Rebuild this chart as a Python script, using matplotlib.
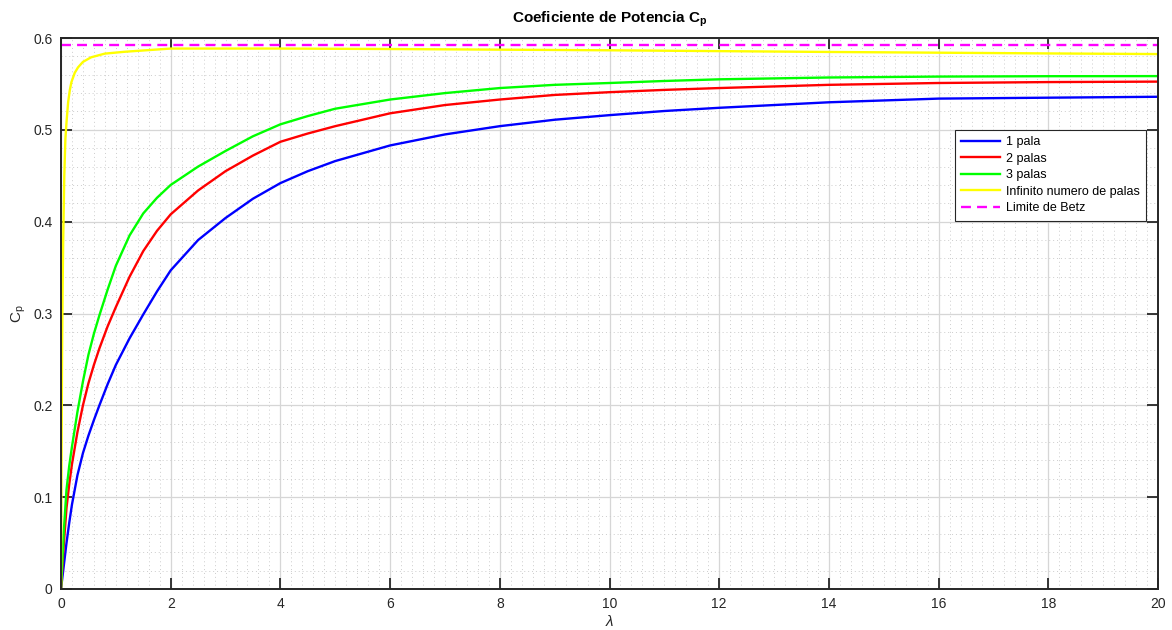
import matplotlib
matplotlib.use("Agg")
import matplotlib.pyplot as plt
from matplotlib.ticker import MultipleLocator

plt.rcParams['font.family'] = ['Liberation Sans', 'DejaVu Sans']
plt.rcParams['mathtext.fontset'] = 'custom'
plt.rcParams['mathtext.rm'] = 'Liberation Sans'
plt.rcParams['mathtext.it'] = 'Liberation Sans:italic'
plt.rcParams['mathtext.bf'] = 'Liberation Sans:bold'

# ---- data ----
lam = [0, 0.05, 0.1, 0.15, 0.2, 0.3, 0.4, 0.5, 0.6, 0.7, 0.85, 1.0, 1.25, 1.5,
       1.75, 2, 2.5, 3, 3.5, 4, 4.5, 5, 6, 7, 8, 9, 10, 11, 12, 14, 16, 18, 20]
cp_1 = [0, 0.025, 0.050, 0.072, 0.092, 0.124, 0.148, 0.167, 0.184, 0.200, 0.223,
        0.244, 0.273, 0.299, 0.324, 0.347, 0.380, 0.404, 0.425, 0.442, 0.455,
        0.466, 0.483, 0.495, 0.504, 0.511, 0.516, 0.5205, 0.524, 0.530, 0.534,
        0.535, 0.536]
cp_2 = [0, 0.048, 0.088, 0.114, 0.136, 0.171, 0.200, 0.224, 0.244, 0.262, 0.286,
        0.307, 0.340, 0.368, 0.390, 0.408, 0.434, 0.455, 0.472, 0.487, 0.496,
        0.504, 0.518, 0.527, 0.533, 0.538, 0.541, 0.5435, 0.5455, 0.549, 0.551,
        0.552, 0.5525]
cp_3 = [0, 0.062, 0.108, 0.134, 0.155, 0.193, 0.226, 0.255, 0.278, 0.298, 0.326,
        0.352, 0.385, 0.409, 0.426, 0.440, 0.460, 0.477, 0.493, 0.506, 0.515,
        0.523, 0.533, 0.540, 0.5455, 0.549, 0.551, 0.5532, 0.555, 0.557, 0.558,
        0.5584, 0.5585]
lam_inf = [0, 0.01, 0.02, 0.03, 0.04, 0.06, 0.08, 0.1, 0.13, 0.16, 0.19, 0.25,
           0.31, 0.4, 0.55, 0.8, 1.16, 2, 4, 6, 8, 10, 12, 14, 16, 18, 20]
cp_inf = [0, 0.15, 0.26, 0.33, 0.38, 0.45, 0.49, 0.508, 0.530, 0.543, 0.552,
          0.562, 0.568, 0.574, 0.579, 0.583, 0.585, 0.5885, 0.5885, 0.588,
          0.5873, 0.5866, 0.5857, 0.5848, 0.5840, 0.5832, 0.5825]
lam_betz = [0, 20]
cp_betz = [0.5926, 0.5926]

labels = ['1 pala', '2 palas', '3 palas', 'Infinito numero de palas', 'Limite de Betz']
xticks = [0, 2, 4, 6, 8, 10, 12, 14, 16, 18, 20]
yticks = [0, 0.1, 0.2, 0.3, 0.4, 0.5, 0.6]
yticklabels = ['0', '0.1', '0.2', '0.3', '0.4', '0.5', '0.6']

fig = plt.figure(figsize=(11.72, 6.30), dpi=100)
ax = fig.add_axes([61/1172, 1 - 589/630, 1097/1172, 551/630])

ax.plot(lam, cp_1, color='#0000ff', lw=1.7, label=labels[0])
ax.plot(lam, cp_2, color='#ff0000', lw=1.7, label=labels[1])
ax.plot(lam, cp_3, color='#00ff00', lw=1.7, label=labels[2])
ax.plot(lam_inf, cp_inf, color='#ffff00', lw=1.7, label=labels[3])
ax.plot(lam_betz, cp_betz, color='#ff00ff', lw=1.7, ls='--', dashes=(4.2, 2.6),
        label=labels[4])

ax.set_xlim(0, 20)
ax.set_ylim(0, 0.6)
ax.set_xticks(xticks)
ax.set_xticklabels([str(v) for v in xticks])
ax.set_yticks(yticks)
ax.set_yticklabels(yticklabels)
ax.xaxis.set_minor_locator(MultipleLocator(0.2))
ax.yaxis.set_minor_locator(MultipleLocator(0.02))

ax.grid(which='major', color='#d6d6d6', lw=0.9)
ax.grid(which='minor', color='#cccccc', lw=0.7, ls=(0, (1, 3)))
ax.set_axisbelow(True)

ax.tick_params(which='major', direction='in', length=8, width=1.3,
               top=True, right=True, colors='#262626', labelsize=10, pad=6)
ax.tick_params(which='minor', length=0, top=True, right=True)
for sp in ax.spines.values():
    sp.set_color('#262626')
    sp.set_linewidth(1.4)

ax.set_title(r'Coeficiente de Potencia C$_\mathbf{p}$', fontsize=11,
             fontweight='bold', color='#000000', pad=11)
ax.set_xlabel(r'$\lambda$', fontsize=11, color='#262626', labelpad=2)
ax.set_ylabel(r'C$_\mathrm{p}$', fontsize=11, color='#262626', labelpad=4)

leg = ax.legend(loc='upper right', bbox_to_anchor=(0.989, 0.833), fontsize=9,
                frameon=True, fancybox=False, shadow=False, framealpha=1,
                edgecolor='#262626', handlelength=3.1, handletextpad=0.45,
                labelspacing=0.36, borderpad=0.5, borderaxespad=0)
leg.get_frame().set_linewidth(0.8)

fig.savefig('out.png', dpi=100)
